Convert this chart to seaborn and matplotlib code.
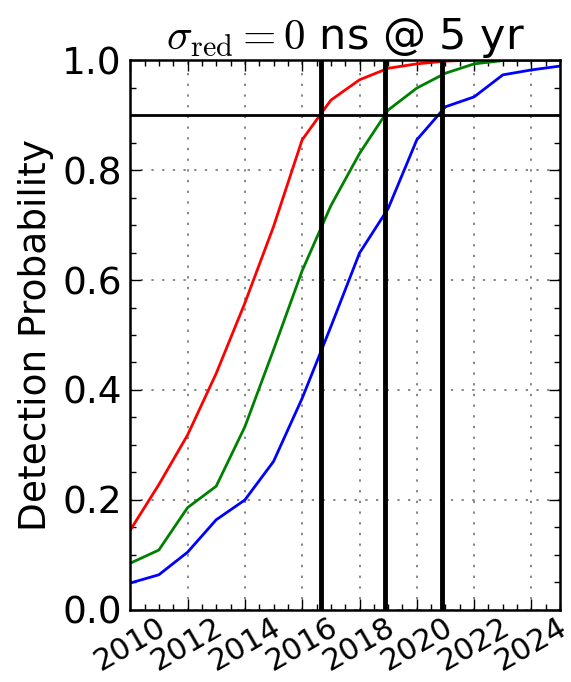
"""Detection probability vs year, sigma_red = 0 ns @ 5 yr."""
import matplotlib
matplotlib.use("Agg")
import matplotlib.pyplot as plt
import numpy as np
import pandas as pd
import seaborn as sns
from matplotlib.ticker import MultipleLocator

years = [2010, 2011, 2012, 2013, 2014, 2015, 2016, 2017, 2018, 2019,
         2020, 2021, 2022, 2023, 2024, 2025]
prob_red = [0.145, 0.228, 0.318, 0.430, 0.558, 0.697, 0.855, 0.927, 0.964, 0.985,
            0.993, 0.998, 1.0, 1.0, 1.0, 1.0]
prob_green = [0.085, 0.109, 0.186, 0.225, 0.333, 0.473, 0.617, 0.735, 0.830, 0.909,
              0.949, 0.976, 0.993, 0.999, 1.0, 1.0]
prob_blue = [0.049, 0.064, 0.105, 0.164, 0.200, 0.270, 0.385, 0.515, 0.649, 0.730,
             0.855, 0.915, 0.933, 0.973, 0.982, 0.989]
threshold = 0.9
years_at_threshold = [2016.65, 2018.9, 2020.88]
xtick_labels = ["2010", "2012", "2014", "2016", "2018", "2020", "2022", "2024"]

sns.set_theme(style="ticks")
plt.rcParams.update({
    "font.family": ["DejaVu Sans"],
    "mathtext.fontset": "cm",
    "axes.edgecolor": "black",
    "axes.linewidth": 1.8,
    "xtick.color": "black",
    "ytick.color": "black",
    "text.color": "black",
    "axes.labelcolor": "black",
})

df = pd.DataFrame({"year": years, "red": prob_red, "green": prob_green, "blue": prob_blue})

fig = plt.figure(figsize=(5.71, 6.82), dpi=100)
ax = fig.add_axes([0.228, 0.1056, 0.753, 0.8064])

for col, color in [("red", "#ff0000"), ("green", "#008000"), ("blue", "#0000ff")]:
    sns.lineplot(data=df, x="year", y=col, color=color, lw=2.0, ax=ax)

for yr in years_at_threshold:
    ax.axvline(yr, color="black", lw=3.5, zorder=3)
ax.axhline(threshold, color="black", lw=2.0, zorder=3)

ax.set_xlim(2010, 2025)
ax.set_ylim(0, 1)
ax.xaxis.set_minor_locator(MultipleLocator(0.5))
ax.yaxis.set_minor_locator(MultipleLocator(0.05))
ax.set_xticks(range(2010, 2025, 2))
ax.set_xticklabels(xtick_labels, rotation=30, ha="center")
ax.set_yticks(np.arange(0, 1.01, 0.2))
ax.set_yticklabels([f"{v:.1f}" for v in np.arange(0, 1.01, 0.2)])

ax.tick_params(which="both", direction="in", top=True, right=True, color="black")
ax.tick_params(which="major", length=8, width=1.0)
ax.tick_params(which="minor", length=4, width=1.0)
ax.tick_params(axis="x", labelsize=22, pad=2)
ax.tick_params(axis="y", labelsize=27, pad=6)
ax.grid(True, which="major", color="0.4", linestyle=(0, (1.5, 5.5)), lw=1.1)

ax.set_xlabel("")
ax.set_ylabel("Detection Probability", fontsize=27, labelpad=6)
ax.set_title(r"$\sigma_{\rm red}=0$ ns @ 5 yr", fontsize=31, pad=3)

fig.savefig("out.png", dpi=100)
